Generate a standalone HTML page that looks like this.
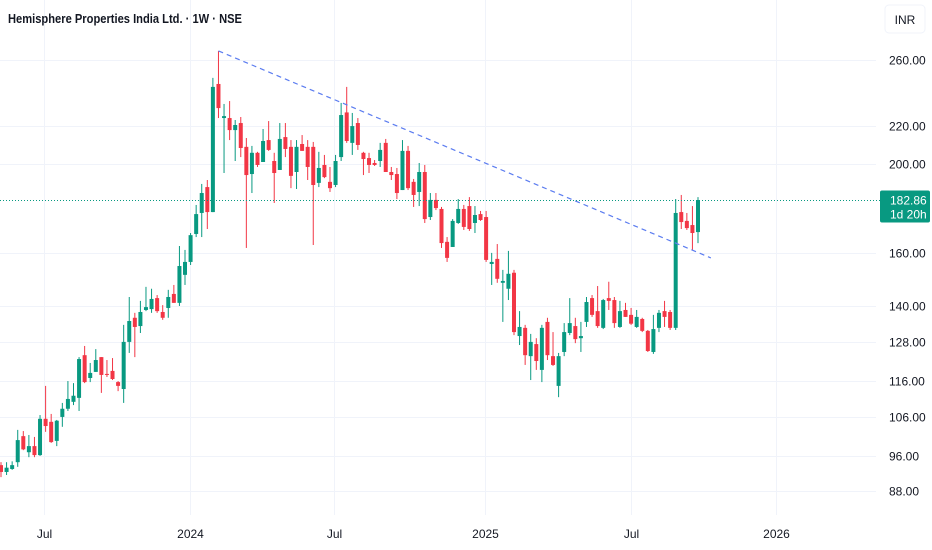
<!DOCTYPE html>
<html><head><meta charset="utf-8"><style>
html,body{margin:0;padding:0;background:#fff;}
svg{display:block;font-family:"Liberation Sans",sans-serif;}
</style></head><body>
<svg id="chart" width="932" height="550" viewBox="0 0 932 550" xmlns="http://www.w3.org/2000/svg">
<rect x="0" y="0" width="932" height="550" fill="#ffffff"/>
<g id="grid"></g>
<g id="candles"></g>
<g id="overlay"></g>
<g id="axes"></g>
<text x="8" y="23" font-size="13" font-weight="bold" fill="#131722" textLength="234" lengthAdjust="spacingAndGlyphs">Hemisphere Properties India Ltd. · 1W · NSE</text>
<rect x="885" y="5" width="40" height="28" rx="4" fill="#fff" stroke="#f0f3fa"/>
<text x="905" y="24" font-size="12" fill="#131722" text-anchor="middle">INR</text>
</svg>
<script>
const opens=[93.9,92.3,93.0,94.6,101.0,97.0,98.5,96.3,105.5,104.7,99.8,106.0,108.2,110.1,111.2,123.8,116.9,118.7,123.2,118.1,119.0,115.7,113.7,128.0,136.0,133.2,138.7,139.0,142.9,138.0,139.4,144.4,141.2,151.5,156.5,167.9,177.0,188.9,177.4,244.8,224.7,224.7,218.0,221.9,209.0,195.2,205.9,201.2,212.6,201.7,197.2,214.2,209.0,196.2,210.5,209.0,209.0,190.9,199.7,191.4,189.9,203.7,227.9,211.1,221.9,205.9,203.2,200.7,201.7,211.1,196.2,195.2,187.5,206.9,191.4,186.6,196.2,175.2,182.9,178.8,164.6,162.5,172.6,178.8,180.1,172.6,176.5,175.2,155.7,157.7,148.5,146.3,152.3,129.9,132.6,123.5,127.3,119.3,134.6,123.5,114.6,124.8,130.9,133.2,129.2,134.6,142.9,138.3,132.6,142.9,142.2,132.9,138.7,137.0,132.9,135.6,131.6,124.8,132.6,138.3,138.0,132.6,177.4,173.5,171.7,168.7];
const closes=[92.3,93.3,93.9,100.0,97.7,98.5,96.3,105.5,103.6,99.5,105.0,108.2,110.9,111.8,122.6,115.7,118.4,122.3,117.8,118.0,116.6,114.6,128.0,134.9,132.9,138.0,139.7,142.6,138.3,136.0,143.3,141.2,154.9,156.5,167.4,176.5,186.1,177.4,243.0,230.4,225.8,218.0,220.8,208.4,194.7,205.9,199.7,212.1,207.4,195.7,213.2,207.9,194.3,209.0,206.9,198.7,189.9,198.2,193.7,188.4,201.7,226.4,212.1,220.2,210.0,202.7,199.7,199.7,207.4,196.2,194.7,186.1,206.9,188.4,185.2,196.2,174.3,182.9,179.2,164.1,158.1,173.5,178.8,170.9,170.0,176.1,173.9,157.3,156.5,150.0,149.2,151.9,131.2,132.9,123.8,128.0,122.0,132.6,123.8,120.8,123.5,131.2,134.2,128.9,129.9,141.5,137.0,133.2,142.2,141.9,134.2,138.3,136.3,134.0,136.3,131.6,125.1,132.2,137.7,136.3,132.6,177.0,173.0,170.4,168.3,182.86];
const highs=[94.6,94.6,94.8,102.6,102.3,101.3,100.8,106.5,114.6,106.8,105.2,109.8,116.0,115.4,123.2,126.7,121.4,125.7,123.2,122.3,122.9,116.0,133.6,143.3,137.7,141.9,147.0,146.3,144.0,140.4,145.9,147.7,162.9,161.3,168.3,180.6,190.4,192.3,248.6,265.9,232.8,234.5,223.6,225.3,213.7,209.5,206.4,218.6,223.0,205.9,221.9,221.9,212.6,212.6,215.3,212.6,211.6,206.4,204.8,198.7,204.8,233.4,243.0,227.6,224.7,206.4,205.9,202.2,211.1,213.2,198.7,198.2,212.6,209.5,192.8,200.7,199.7,186.1,186.1,179.7,166.6,174.3,183.3,180.6,184.2,180.1,177.9,177.9,160.1,163.7,153.4,160.9,153.4,138.3,133.6,130.6,129.2,133.6,136.0,131.2,124.5,134.2,142.9,136.0,134.6,143.3,144.0,147.3,142.6,148.9,143.3,141.9,141.2,139.4,138.7,136.0,131.9,137.0,138.7,141.9,138.7,183.3,185.2,177.0,180.1,184.2];
const lows=[91.1,91.6,92.8,93.5,97.5,95.8,95.8,96.1,102.1,99.3,98.5,103.4,107.6,109.2,107.6,115.4,115.7,118.7,112.6,117.2,116.3,113.1,109.8,124.5,123.2,130.9,138.3,137.7,137.7,135.3,136.0,141.2,140.1,147.7,155.3,166.6,166.6,170.0,177.4,224.7,195.7,212.6,201.7,203.7,162.1,186.1,198.7,201.2,206.9,181.5,197.2,203.7,188.4,188.0,206.9,192.3,163.3,188.9,193.2,186.6,188.9,201.7,211.1,204.8,207.4,194.7,195.7,199.2,198.7,196.2,192.3,183.3,187.5,187.5,179.7,180.1,172.6,173.9,178.3,162.1,156.5,162.5,172.2,169.6,169.2,168.3,173.5,156.5,147.7,148.5,134.6,142.2,130.2,127.0,120.8,116.3,119.3,115.7,122.3,120.5,111.4,123.5,130.2,127.6,124.8,132.9,136.3,132.6,132.2,138.7,132.6,132.6,136.3,133.6,132.6,131.2,124.8,124.2,131.2,132.9,131.9,131.9,170.0,169.6,161.3,164.1];
const priceTicks=[260,220,200,160,140,128,116,106,96,88];
const timeTickIndex=[7.71,33.9,59.8,86.8,113.0,139.0];
const timeTickLabels=["Jul","2024","Jul","2025","Jul","2026"];
const trendIndex=[39,127.3];
const trendPrice=[266,158.1];
const lastPrice=182.86;

const NS="http://www.w3.org/2000/svg";
const PLOT_R=876;
function yOf(p){return 60+(Math.log(260)-Math.log(p))*397.8;}
function xOf(i){return 1+i*5.576;}
function mk(tag,attrs,parent){const e=document.createElementNS(NS,tag);for(const k in attrs)e.setAttribute(k,attrs[k]);parent.appendChild(e);return e;}
const grid=document.getElementById('grid'),cg=document.getElementById('candles'),ov=document.getElementById('overlay'),ax=document.getElementById('axes');

priceTicks.forEach((p,k)=>{
  const y=Math.round(yOf(p))+0.5;
  const l=mk('line',{x1:0,x2:PLOT_R,y1:y,y2:y,stroke:'#f0f3fa','stroke-width':1},grid);
  
  
  const t=mk('text',{x:889,y:y+4,'font-size':12,fill:'#131722'},ax);
  t.textContent=p.toFixed(2);
  
  
});
timeTickIndex.forEach((ti,k)=>{
  const x=Math.round(xOf(ti))+0.5;
  const l=mk('line',{x1:x,x2:x,y1:0,y2:515,stroke:'#f0f3fa','stroke-width':1},grid);
  
  
  const t=mk('text',{x:x,y:538,'font-size':12,fill:'#131722','text-anchor':'middle'},ax);
  t.textContent=timeTickLabels[k];
  
  
});

for(let i=0;i<opens.length;i++){
  const o=opens[i],c=closes[i],h=highs[i],l=lows[i];
  const up=c>=o, col=up?'#089981':'#f23645';
  const x=xOf(i);
  const w=mk('line',{x1:x,x2:x,y1:yOf(h),y2:yOf(l),stroke:col,'stroke-width':1},cg);
  
  
  const top=yOf(Math.max(o,c)),bot=yOf(Math.min(o,c));
  const b=mk('rect',{x:x-2,y:top,width:4,height:Math.max(1,bot-top),fill:col},cg);
  
  
}

const tl=mk('line',{x1:xOf(trendIndex[0]),y1:yOf(trendPrice[0]),x2:xOf(trendIndex[1]),y2:yOf(trendPrice[1]),stroke:'#5b7cf0','stroke-width':1.2,'stroke-dasharray':'5 4'},ov);


const ly=Math.round(yOf(lastPrice))+0.5;
const pl=mk('line',{x1:0,x2:880,y1:ly,y2:ly,stroke:'#089981','stroke-width':1,'stroke-dasharray':'1 2'},ov);


const bx=mk('rect',{x:880,y:ly-10,width:50,height:32,rx:2,fill:'#089981'},ov);


const t1=mk('text',{x:890,y:ly+4,'font-size':12,fill:'#fff'},ov);
t1.textContent=lastPrice.toFixed(2);


const t2=mk('text',{x:890,y:ly+18,'font-size':12,fill:'#fff'},ov);
t2.textContent='1d 20h';


</script>
</body></html>
